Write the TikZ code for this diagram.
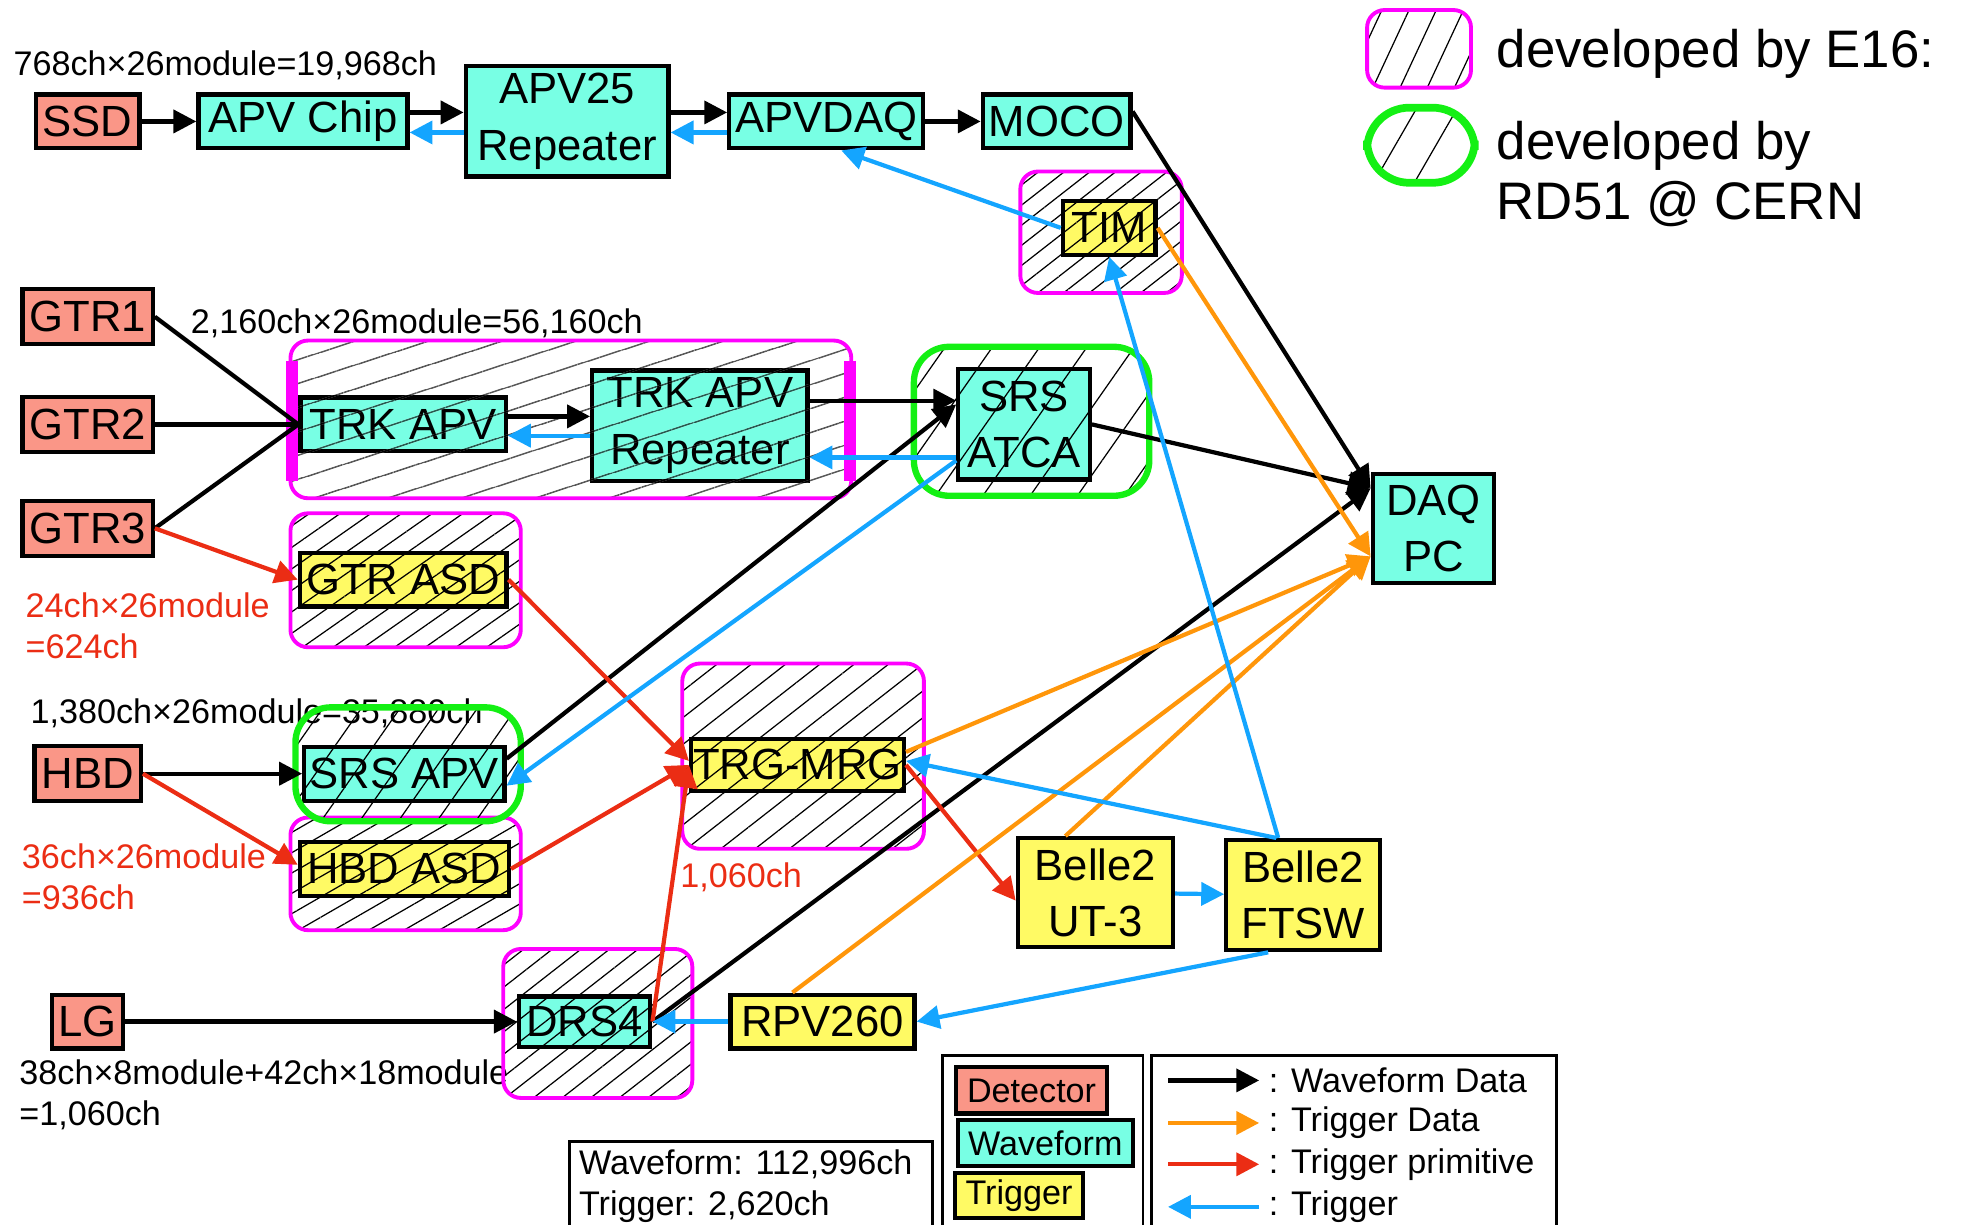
\documentclass[tikz,border=0pt]{standalone}
\usepackage{fontspec}
\setmainfont{Liberation Sans}
\usetikzlibrary{arrows.meta,patterns.meta}
\definecolor{detc}{RGB}{250,150,135}
\definecolor{wavc}{RGB}{120,255,228}
\definecolor{trgc}{RGB}{255,250,100}
\definecolor{orgc}{RGB}{255,150,10}
\definecolor{redc}{RGB}{235,45,20}
\definecolor{bluc}{RGB}{20,165,255}
\definecolor{grnc}{RGB}{20,240,20}
\definecolor{mgnc}{RGB}{255,0,255}
\newcommand{\boxfont}{\fontsize{12.4}{16}\selectfont}
\newcommand{\notefont}{\fontsize{9.7}{11.7}\selectfont}
\newcommand{\keyfont}{\fontsize{15}{17}\selectfont}
\tikzset{
  unit/.style       = {shape=rectangle, draw, line width=1.2pt,
                       inner sep=0pt, align=center, font=\boxfont},
  sz/.style 2 args  = {minimum width=#1*0.125mm, minimum height=#2*0.125mm},
  detector/.style   = {unit, fill=detc},
  wave/.style       = {unit, fill=wavc},
  trig/.style       = {unit, fill=trgc},
  e16/.style        = {draw=mgnc, line width=1.1pt, rounded corners=5pt},
  rd51/.style       = {draw=grnc, line width=1.8pt, rounded corners=10pt},
  wavarr/.style     = {-{Triangle[length=6.5pt,width=6.5pt]}, line width=1.2pt},
  tdarr/.style      = {wavarr, color=orgc},
  tparr/.style      = {wavarr, color=redc},
  trarr/.style      = {wavarr, color=bluc},
  note/.style       = {font=\notefont, inner sep=0pt, align=left}
}

\begin{document}
\begin{tikzpicture}[x=0.125mm, y=-0.125mm]
  \useasboundingbox (0,0) rectangle (1568,978);

  % detectors and boards
  \node [detector, sz={83}{43}]  (ssd)     at (70,97)    {SSD};
  \node [wave, sz={167}{43}]     (apvchip) at (242,97)   {APV Chip};
  \node [wave, sz={162}{88}]     (apvrep)  at (453,97)   {APV25\\Repeater};
  \node [wave, sz={155}{43}]     (apvdaq)  at (660,97)   {APVDAQ};
  \node [wave, sz={118}{43}]     (moco)    at (844,97)   {MOCO};
  \node [trig, sz={74}{43}]      (tim)     at (886,182)  {TIM};
  \node [detector, sz={104}{44}] (gtr1)    at (70,253)   {GTR1};
  \node [detector, sz={104}{44}] (gtr2)    at (70,339)   {GTR2};
  \node [detector, sz={104}{44}] (gtr3)    at (70,422)   {GTR3};
  \node [wave, sz={164}{43}]     (trkapv)  at (322,339)  {TRK APV};
  \node [wave, sz={172}{88}]     (trkrep)  at (559,340)  {TRK APV\\Repeater};
  \node [wave, sz={105}{88}]     (srsatca) at (818,339)  {SRS\\ATCA};
  \node [wave, sz={97}{87}]      (daqpc)   at (1145,422) {DAQ\\PC};
  \node [trig, sz={165}{43}]     (gtrasd)  at (322,463)  {GTR ASD};
  \node [detector, sz={85}{44}]  (hbd)     at (70,618)   {HBD};
  \node [wave, sz={160}{43}]     (srsapv)  at (323,618)  {SRS APV};
  \node [trig, sz={167}{43}]     (hbdasd)  at (323,694)  {HBD ASD};
  \node [trig, sz={170}{42}]     (trgmrg)  at (637,611)  {TRG-MRG};
  \node [trig, sz={124}{87}]     (ut3)     at (875,713)  {Belle2\\UT-3};
  \node [trig, sz={123}{88}]     (ftsw)    at (1041,715) {Belle2\\FTSW};
  \node [detector, sz={57}{43}]  (lg)      at (70,816)   {LG};
  \node [wave, sz={105}{40}]     (drs4)    at (467,816)  {DRS4};
  \node [trig, sz={147}{43}]     (rpv)     at (657,816)  {RPV260};

  \coordinate (wavin) at ([yshift=0.4cm]daqpc.west);
  \coordinate (trgin) at ([yshift=-0.28cm]daqpc.west);

  % channel counts
  \node [note] (nssd) at (180,52)  {768ch×26module=19,968ch};
  \node [note] (ngtr) at (333,258) {2,160ch×26module=56,160ch};
  \node [note, text=redc, anchor=north west] (ngtra) at (20,473) {24ch×26module\\=624ch};
  \node [note] (nhbd) at (205,570) {1,380ch×26module=35,880ch};
  \node [note, text=redc, anchor=north west] (nhbda) at (17,673) {36ch×26module\\=936ch};
  \node [note, text=redc] (nmrg) at (592,701) {1,060ch};
  \node [note, anchor=north west] (nlg) at (15,846) {38ch×8module+42ch×18module\\=1,060ch};

  % hatched frames
  \draw [e16, pattern={Lines[angle=38,distance=4.5pt,line width=0.35pt]}] (815,137) rectangle (944,234);
  \draw [e16, pattern={Lines[angle=18,distance=6.5pt,line width=0.35pt]}] (232,272) rectangle (680,398);
  \draw [mgnc, line width=3.5pt] (233,288) -- (233,384) (679,288) -- (679,384);
  \draw [e16, pattern={Lines[angle=35,distance=5pt,line width=0.35pt]}] (232,410) rectangle (416,517);
  \draw [e16, pattern={Lines[angle=30,distance=5pt,line width=0.35pt]}] (232,653) rectangle (416,743);
  \draw [e16, pattern={Lines[angle=38,distance=6pt,line width=0.35pt]}] (545,530) rectangle (738,678);
  \draw [e16, pattern={Lines[angle=38,distance=5pt,line width=0.35pt]}] (402,758) rectangle (553,877);
  \draw [rd51, pattern={Lines[angle=55,distance=11pt,line width=0.35pt]}] (730,277) rectangle (918,396);
  \draw [rd51, pattern={Lines[angle=55,distance=9pt,line width=0.35pt]}] (236,565) rectangle (416,656);

  % waveform data
  \draw [wavarr] (ssd) -- (apvchip);
  \draw [wavarr] ([yshift=0.09cm]apvchip.east) -- ([yshift=0.09cm]apvchip.east -| apvrep.west);
  \draw [wavarr] ([yshift=0.09cm]apvrep.east) -- ([yshift=0.09cm]apvrep.east -| apvdaq.west);
  \draw [wavarr] (apvdaq) -- (moco);
  \draw [wavarr] ([yshift=0.1cm]moco.east) -- (wavin);
  \draw [line width=1.2pt] (gtr1.east) -- (trkapv.west);
  \draw [line width=1.2pt] (gtr2.east) -- (trkapv.west);
  \draw [line width=1.2pt] (gtr3.east) -- (trkapv.west);
  \draw [wavarr] ([yshift=0.08cm]trkapv.east) -- ([yshift=0.08cm]trkapv.east -| trkrep.west);
  \draw [wavarr] ([yshift=0.25cm]trkrep.east) -- ([yshift=0.25cm]trkrep.east -| srsatca.west);
  \draw [wavarr] (srsatca.east) -- (wavin);
  \draw [wavarr] (hbd) -- (srsapv);
  \draw [wavarr] ([yshift=0.15cm]srsapv.east) -- ([yshift=0.2cm]srsatca.west);
  \draw [wavarr] (lg) -- (drs4);
  \draw [wavarr] (drs4.east) -- (wavin);

  % trigger primitive
  \draw [tparr] (gtr3.east) -- (gtrasd.west);
  \draw [tparr] (gtrasd.east) -- ([yshift=0.04cm]trgmrg.west);
  \draw [tparr] (hbd.east) -- ([yshift=0.04cm]hbdasd.west);
  \draw [tparr] (hbdasd.east) -- (trgmrg.west);
  \draw [tparr] (drs4.east) -- (trgmrg.west);
  \draw [tparr] (trgmrg.east) -- ([yshift=-0.08cm]ut3.west);

  % trigger data
  \draw [tdarr] (tim.east) -- (trgin);
  \draw [tdarr] ([yshift=0.13cm]trgmrg.east) -- (trgin);
  \draw [tdarr] ([xshift=-0.3cm]ut3.north) -- (trgin);
  \draw [tdarr] ([xshift=-0.3cm]rpv.north) -- (trgin);

  % trigger
  \draw [trarr] ([yshift=-0.11cm]apvrep.west) -- ([yshift=-0.11cm]apvrep.west -| apvchip.east);
  \draw [trarr] ([yshift=-0.11cm]apvdaq.west) -- ([yshift=-0.11cm]apvdaq.west -| apvrep.east);
  \draw [trarr] (tim.west) -- ([xshift=0.15cm]apvdaq.south);
  \draw [trarr] ([yshift=-0.1cm]trkrep.west) -- ([yshift=-0.1cm]trkrep.west -| trkapv.east);
  \draw [trarr] ([yshift=-0.33cm]srsatca.west) -- ([yshift=-0.33cm]srsatca.west -| trkrep.east);
  \draw [trarr] ([yshift=-0.36cm]srsatca.west) -- ([yshift=-0.12cm]srsapv.east);
  \draw [trarr] ([xshift=-0.25cm]ftsw.north) -- (tim.south);
  \draw [trarr] ([xshift=-0.27cm]ftsw.north) -- ([yshift=0.04cm]trgmrg.east);
  \draw [trarr] (ut3) -- (ftsw);
  \draw [trarr] ([xshift=-0.35cm]ftsw.south) -- (rpv.east);
  \draw [trarr] (rpv) -- (drs4);

  % legends
  \draw [e16, pattern={Lines[angle=65,distance=7pt,line width=0.35pt]}] (1092,8) rectangle (1175,70);
  \draw [rd51, line width=2.2pt, rounded corners=12pt, pattern={Lines[angle=60,distance=10pt,line width=0.35pt]}]
        (1092,86) rectangle (1178,146);
  \node [font=\keyfont, anchor=west, inner sep=0pt] (ke16) at (1195,43) {developed by E16:};
  \node [font=\keyfont, anchor=west, inner sep=0pt, align=left] (krd51) at (1195,139)
        {developed by\\RD51 @ CERN};

  \draw [line width=0.8pt] (455,912) rectangle (745,990);
  \node [note, anchor=north west] (ksum) at (462,918) {Waveform: 112,996ch\\Trigger: 2,620ch};

  \draw [line width=0.8pt] (753,843) rectangle (913,990);
  \node [detector, sz={121}{37}, font=\notefont] (kdet) at (824,871) {Detector};
  \node [wave, sz={140}{37}, font=\notefont]     (kwf)  at (835,913) {Waveform};
  \node [trig, sz={102}{36}, font=\notefont]     (ktg)  at (814,955) {Trigger};

  \draw [line width=0.8pt] (920,843) rectangle (1243,990);
  \node [note, anchor=west] (kwd) at (1013,863) {: Waveform Data};
  \node [note, anchor=west] (ktd) at (1013,897) {: Trigger Data};
  \node [note, anchor=west] (ktp) at (1013,930) {: Trigger primitive};
  \node [note, anchor=west] (ktr) at (1013,964) {: Trigger};
  \draw [wavarr] ([xshift=-1.0cm]kwd.west) -- ([xshift=-0.09cm]kwd.west);
  \draw [tdarr]  ([xshift=-1.0cm]ktd.west) -- ([xshift=-0.09cm]ktd.west);
  \draw [tparr]  ([xshift=-1.0cm]ktp.west) -- ([xshift=-0.09cm]ktp.west);
  \draw [trarr]  ([xshift=-0.09cm]ktr.west) -- ([xshift=-1.0cm]ktr.west);

\end{tikzpicture}
\end{document}
